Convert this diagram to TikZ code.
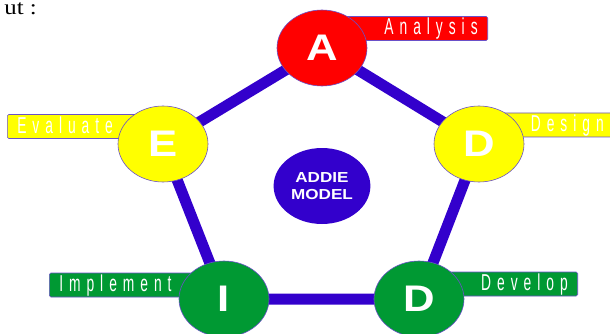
\documentclass[tikz,border=0pt]{standalone}
\usepackage{fontspec}
\usepackage{tikz}
\usetikzlibrary{shapes,shapes.geometric,backgrounds,positioning}

\newfontfamily\letterfont[FakeStretch=1.18]{Liberation Sans}
\newfontfamily\tagfont[FakeStretch=0.6,LetterSpace=26]{Liberation Sans}
\newfontfamily\pagefont[FakeStretch=1.18]{Liberation Serif}

\definecolor{addieblue}{HTML}{3300CC}
\definecolor{addiered}{HTML}{FF0000}
\definecolor{addieyellow}{HTML}{FFFF00}
\definecolor{addiegreen}{HTML}{009933}
\definecolor{rim}{HTML}{6A50C8}

\begin{document}
\begin{tikzpicture}[x=1pt,y=-1pt,
  phase/.style={ellipse,draw=rim,line width=0.6pt,minimum width=90pt,
    minimum height=76pt,inner sep=0pt,text=white,
    font=\letterfont\bfseries\fontsize{37}{37}\selectfont},
  tag/.style={rectangle,draw=rim,line width=0.6pt,rounded corners=1.5pt,
    inner xsep=10pt,inner ysep=2pt,text height=16.5pt,text depth=3.5pt,
    text=white,font=\tagfont\fontsize{23}{23}\selectfont},
  edge/.style={addieblue,line width=11pt,line join=round}]
  \useasboundingbox (0,0) rectangle (610,334);

  \node [anchor=base east,inner sep=0pt,font=\pagefont\fontsize{21}{21}\selectfont]
        (cue) at (37,15) {ut :};

  \node [phase,fill=addiered]     (a)  at (322,48)  {A};
  \node [phase,fill=addieyellow]  (d)  at (479,144) {D};
  \node [phase,fill=addiegreen]   (dv) at (419,299) {D};
  \node [phase,fill=addiegreen]   (i)  at (224,299) {I};
  \node [phase,fill=addieyellow]  (e)  at (163,144) {E};

  \node [ellipse,fill=addieblue,minimum width=90pt,minimum height=76pt,
         text=white,align=center,
         font=\letterfont\bfseries\fontsize{14.5}{17}\selectfont]
        (model) at (322,186) {ADDIE\\MODEL};

  \begin{scope}[on background layer]
    \node [tag,fill=addiered,text width=128pt,align=right,anchor=east]
          (analysis)  at (488,28.5)  {Analysis};
    \node [tag,fill=addieyellow,text width=100pt,align=right,anchor=east]
          (design)    at (614,125)   {Design};
    \node [tag,fill=addiegreen,text width=120pt,align=right,anchor=east]
          (develop)   at (578,284)   {Develop};
    \node [tag,fill=addiegreen,text width=150pt,align=left,anchor=west]
          (implement) at (49,285)    {Implement};
    \node [tag,fill=addieyellow,text width=150pt,align=left,anchor=west]
          (evaluate)  at (7,126.5)   {Evaluate};

    % \draw[edge] (a) -- (d) -- (dv) -- (i) -- (e) -- (a);
    \draw[edge] (a.center) -- (d.center) -- (dv.center)
                -- (i.center) -- (e.center) -- cycle;
  \end{scope}
\end{tikzpicture}
\end{document}
